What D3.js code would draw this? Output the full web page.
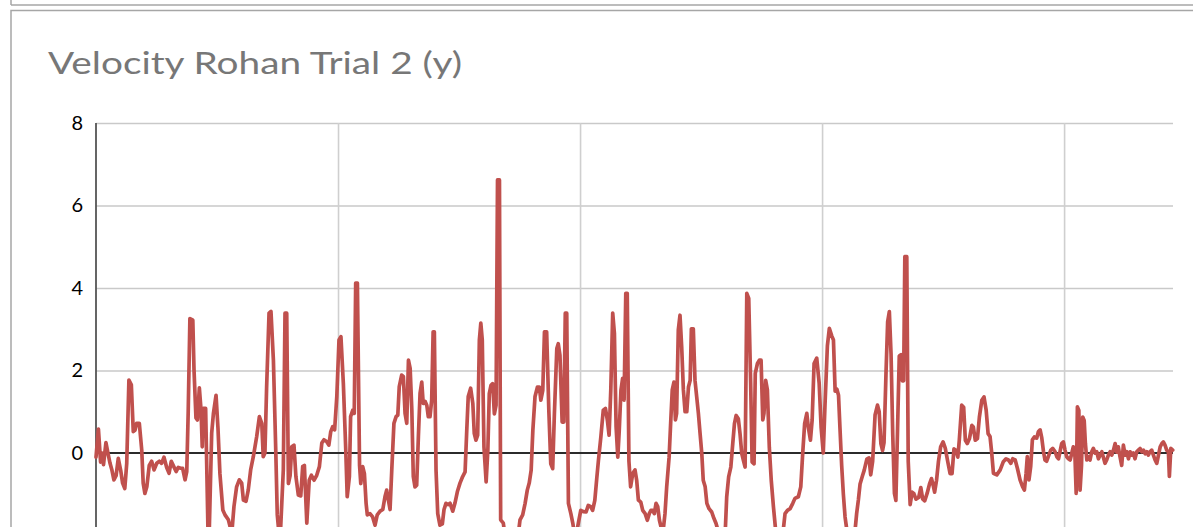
<!DOCTYPE html>
<html><head><meta charset="utf-8">
<script src="https://cdn.jsdelivr.net/npm/d3@7"></script>
<style>html,body{margin:0;padding:0;background:#fff;overflow:hidden}</style>
</head><body><svg id="c" width="1193" height="527"></svg>
<script>
const chartTitle = "Velocity Rohan Trial 2 (y)";
const yTicks = [-4, -2, 0, 2, 4, 6, 8];
const yLabelTicks = [0, 2, 4, 6, 8];
const yDomain = [-4, 8];
const frameDomain = [0, 445];
const xGridFrames = [100, 200, 300, 400];

const frames = [
0.0,1.0,1.9,2.5,3.1,4.1,5.0,5.8,6.6,7.4,
8.3,9.2,10.2,11.0,11.9,12.7,13.6,14.6,15.4,16.1,
16.8,17.9,18.9,19.5,20.2,21.0,22.0,23.0,24.0,25.1,
26.2,27.1,28.1,29.2,30.2,31.1,31.9,33.1,34.0,35.0,
35.8,36.8,37.5,38.1,38.8,40.0,40.5,41.3,41.9,42.7,
43.4,43.9,44.3,45.3,46.5,47.8,48.5,49.6,50.4,51.2,
52.4,53.3,54.7,56.1,57.0,58.1,59.2,60.2,60.9,62.0,
62.9,63.9,65.0,66.4,67.5,68.5,69.1,69.8,70.5,71.5,
72.3,73.3,74.3,74.9,76.0,77.4,78.1,78.8,79.5,80.2,
80.9,81.8,82.6,83.6,84.6,85.4,86.1,87.1,88.1,89.0,
90.1,91.2,92.3,93.3,94.2,95.3,96.2,97.0,97.8,98.6,
99.5,100.4,101.2,102.2,103.2,103.8,104.7,105.2,106.1,106.7,
107.3,108.0,108.9,109.4,110.2,110.9,111.6,112.1,113.2,114.3,
115.3,116.2,117.4,118.5,119.4,120.1,120.8,121.5,122.2,123.1,
124.0,124.7,125.3,126.3,127.0,127.7,128.4,129.1,129.8,130.5,
131.1,131.8,132.5,133.2,133.9,134.6,135.2,136.0,136.7,137.3,
138.0,138.7,139.3,139.8,140.5,141.2,142.1,143.1,143.8,144.6,
145.6,146.3,147.4,148.3,149.3,150.4,151.5,152.5,153.2,153.8,
154.8,155.7,156.3,157.0,157.7,158.4,159.0,159.6,160.3,161.2,
161.9,162.5,163.2,163.9,164.6,165.3,165.9,166.7,167.2,168.3,
169.4,171.9,174.0,175.2,176.3,177.3,178.2,179.0,179.8,180.5,
181.4,182.4,183.2,183.8,184.6,185.3,186.2,187.1,187.9,188.7,
189.4,190.4,191.0,191.7,192.6,193.3,193.9,194.5,195.2,196.2,
197.0,198.1,199.3,200.3,201.4,202.5,203.4,204.4,205.2,206.1,
206.9,207.6,208.6,209.6,210.5,211.3,212.0,212.7,213.5,214.2,
214.9,215.6,216.2,216.9,217.6,218.2,218.9,219.5,220.2,220.9,
221.8,222.7,223.4,224.1,225.1,225.9,226.9,227.8,228.6,229.3,
230.0,230.7,231.4,232.1,232.8,233.5,234.4,235.1,235.8,236.8,
237.5,238.1,238.8,239.4,239.9,240.6,241.3,242.0,242.7,243.4,
244.1,244.8,245.5,246.0,246.8,247.5,248.2,248.9,249.6,250.3,
250.9,251.7,252.4,253.3,254.4,255.1,256.2,257.1,258.7,260.0,
260.6,261.4,262.3,263.1,263.8,264.5,265.4,266.1,266.8,267.5,
268.2,268.9,269.7,270.5,271.1,271.9,272.4,273.3,274.1,274.8,
275.5,276.0,276.7,277.4,278.2,279.0,279.9,280.7,282.2,284.0,
284.7,285.7,286.8,287.9,288.8,290.2,291.2,292.0,292.8,293.7,
294.3,295.2,295.9,296.7,297.8,298.8,299.6,300.5,301.2,302.2,
303.0,304.0,304.7,305.4,306.1,306.8,307.4,308.1,308.8,309.5,
310.2,311.6,313.6,314.3,315.0,315.7,316.7,317.4,318.5,319.4,
320.1,320.9,321.9,322.9,323.6,324.3,325.0,325.6,326.4,327.1,
327.8,328.5,329.2,329.9,330.5,331.2,331.9,332.6,333.2,333.7,
334.2,335.0,335.6,336.4,337.2,337.9,338.8,339.9,340.8,341.6,
342.4,343.4,344.4,345.2,345.9,346.5,347.3,348.1,349.0,350.0,
350.9,351.9,352.9,353.7,354.5,355.4,356.1,356.7,357.7,358.5,
359.2,360.0,360.9,361.9,362.5,363.3,364.2,365.0,366.0,366.9,
367.8,368.6,369.4,370.1,370.8,372.2,373.6,374.9,376.0,377.0,
378.0,378.8,379.8,380.7,381.8,382.8,383.6,384.3,384.8,385.5,
386.2,386.9,387.7,388.7,389.4,390.1,390.8,391.5,392.1,392.8,
393.7,394.5,395.3,396.3,397.0,397.7,398.3,399.0,399.7,400.4,
401.1,401.8,402.5,403.2,403.8,404.5,405.0,405.5,406.1,406.6,
407.2,407.7,408.3,408.8,409.4,410.0,410.7,411.4,412.1,412.8,
413.5,414.2,414.9,415.6,416.2,416.9,417.6,418.3,419.0,419.7,
420.4,421.1,421.8,422.4,423.1,423.8,424.5,425.2,425.9,426.6,
427.3,428.0,428.6,429.3,430.0,430.7,431.4,432.1,432.8,433.5,
434.2,434.8,435.5,436.2,436.9,437.6,438.3,439.0,439.7,440.4,
441.0,441.7,442.4,443.1,443.5,444.1,444.9
];

const velocity = [
-0.10,0.58,-0.22,0.00,-0.28,0.25,-0.02,-0.25,-0.42,-0.65,
-0.55,-0.13,-0.42,-0.73,-0.86,-0.25,1.77,1.65,0.52,0.55,
0.72,0.72,0.07,-0.73,-0.98,-0.82,-0.30,-0.20,-0.41,-0.25,
-0.20,-0.25,-0.10,-0.35,-0.49,-0.20,-0.30,-0.45,-0.35,-0.37,
-0.37,-0.65,-0.45,1.00,3.26,3.22,2.01,0.85,0.80,1.58,
1.04,0.15,1.08,1.08,-2.60,0.48,0.95,1.40,0.60,-0.50,
-1.38,-1.50,-1.62,-1.95,-1.30,-0.82,-0.65,-0.73,-1.14,-1.17,
-0.90,-0.41,-0.09,0.40,0.88,0.72,-0.09,0.00,1.60,3.39,
3.43,2.25,0.00,-1.50,-2.20,-0.40,3.39,3.39,-0.74,-0.55,
0.15,0.19,-0.57,-1.02,-1.04,-0.33,-0.30,-1.70,-0.66,-0.54,
-0.66,-0.54,-0.33,0.24,0.32,0.28,0.19,0.52,0.64,0.56,
1.37,2.74,2.82,1.69,0.07,-1.06,-0.57,0.88,1.04,0.96,
4.12,4.12,-0.30,-0.74,-0.33,-0.50,-1.22,-1.50,-1.47,-1.55,
-1.75,-1.50,-1.41,-1.37,-1.06,-0.90,-1.14,-1.37,-0.42,0.72,
0.88,0.92,1.61,1.89,1.85,0.96,0.72,2.25,2.05,1.04,
-0.57,-0.82,-0.78,0.39,1.45,1.72,1.20,1.25,1.15,0.88,
0.88,1.28,2.94,2.94,-0.42,-1.47,-1.75,-1.72,-1.37,-1.22,
-1.25,-1.22,-1.41,-1.22,-0.94,-0.73,-0.57,-0.46,0.56,1.37,
1.57,1.20,0.47,0.31,0.43,2.74,3.15,2.74,0.15,-0.70,
0.06,1.44,1.64,1.68,0.95,1.16,6.62,6.62,-1.62,-1.70,
-2.20,-2.60,-2.20,-1.62,-1.50,-1.22,-0.90,-0.73,-0.42,0.55,
1.37,1.60,1.60,1.28,1.52,2.94,2.94,1.04,-0.26,-0.38,
0.95,2.53,2.65,2.37,0.75,0.75,3.39,3.39,-1.22,-1.47,
-1.70,-2.10,-1.70,-1.39,-1.42,-1.43,-1.27,-1.30,-1.39,-1.15,
-0.62,-0.18,0.39,1.04,1.08,0.79,0.43,1.52,3.39,2.90,
0.63,-0.10,0.55,1.52,1.81,1.28,3.87,3.87,-0.20,-0.82,
-0.49,-0.41,-0.66,-1.14,-1.19,-1.39,-1.47,-1.63,-1.47,-1.39,
-1.39,-1.47,-1.22,-1.30,-1.63,-1.80,-1.85,-1.47,-0.82,-0.10,
0.80,1.53,1.72,0.80,0.96,2.98,3.34,2.57,1.53,1.00,
1.00,1.60,1.76,3.01,3.01,1.76,1.36,0.96,0.47,-0.01,
-0.66,-0.82,-1.22,-1.35,-1.43,-1.55,-1.71,-1.90,-2.10,-1.90,
-1.06,-0.58,-0.34,0.23,0.71,0.91,0.83,0.47,-0.01,-0.18,
-0.34,3.87,3.75,1.68,-0.22,-0.26,1.93,2.17,2.25,2.25,
0.80,0.96,1.76,1.53,0.14,-0.66,-1.30,-1.80,-2.20,-1.85,
-1.47,-1.39,-1.35,-1.22,-1.10,-1.06,-0.82,-0.01,0.71,0.96,
0.63,0.31,0.80,2.17,2.30,1.69,0.63,0.00,1.15,2.60,
3.02,2.84,2.74,1.50,1.55,1.40,0.60,-0.30,-1.00,-1.55,
-1.85,-2.30,-1.90,-1.46,-1.14,-0.75,-0.55,-0.42,-0.15,-0.12,
-0.53,-0.20,0.92,1.16,1.00,0.23,0.06,0.25,1.90,3.18,
3.43,2.40,0.45,-0.98,-1.15,0.60,2.35,2.38,1.75,1.75,
4.76,4.76,-0.20,-1.25,-0.95,-0.98,-1.12,-1.08,-0.84,-1.12,
-1.16,-0.98,-0.75,-0.62,-0.78,-0.95,-0.66,-0.20,0.15,0.27,
0.12,-0.20,-0.50,-0.50,0.10,0.06,-0.10,0.31,1.16,1.11,
0.31,0.23,0.35,0.67,0.63,0.31,0.35,0.87,1.28,1.36,
1.04,0.47,0.40,0.00,-0.49,-0.53,-0.41,-0.21,-0.14,-0.17,
-0.25,-0.14,-0.17,-0.37,-0.65,-0.81,-0.90,-0.49,-0.09,-0.65,
-0.33,0.32,0.39,0.36,0.52,0.56,0.36,0.03,-0.17,-0.20,
-0.05,0.07,0.11,0.03,-0.09,-0.14,0.03,0.23,0.27,0.07,
-0.09,-0.14,-0.17,0.00,0.15,-0.09,-0.98,1.12,1.03,-0.90,
-0.30,0.87,0.79,0.23,-0.17,-0.09,-0.17,0.03,0.11,0.00,
0.03,-0.14,-0.05,0.03,-0.10,-0.25,-0.17,-0.05,0.03,-0.05,
0.07,0.23,0.02,0.15,-0.09,-0.30,0.19,-0.05,0.03,-0.14,
0.03,-0.05,0.00,-0.14,0.03,0.07,0.11,0.03,0.07,-0.02,
0.03,-0.05,0.03,0.07,-0.05,-0.17,-0.25,-0.05,0.15,0.23,
0.27,0.19,0.07,0.03,-0.57,0.11,0.07
];

const svg = d3.select("#c");
const W = 1193;
const plot = {left: 96, right: 1173, top: 123, bottom: 618};

// outer frames
svg.append("line").attr("x1", 11).attr("x2", W + 5).attr("y1", 5).attr("y2", 5)
  .attr("stroke", "#a6a6a6").attr("stroke-width", 1.5);
svg.append("line").attr("x1", 11).attr("x2", 11).attr("y1", -5).attr("y2", 5)
  .attr("stroke", "#a6a6a6").attr("stroke-width", 1.5);
svg.append("rect").attr("x", 11).attr("y", 10.5).attr("width", W + 20).attr("height", 800)
  .attr("fill", "none").attr("stroke", "#a6a6a6").attr("stroke-width", 1.5);

const x = d3.scaleLinear().domain(frameDomain).range([plot.left, plot.right]);
const y = d3.scaleLinear().domain(yDomain).range([plot.bottom, plot.top]);

// horizontal gridlines
svg.append("g").attr("class", "ygrid")
  .attr("transform", `translate(${plot.left},0)`)
  .call(d3.axisLeft(y).tickValues(yTicks.filter(v => v !== 0))
    .tickSize(-(plot.right - plot.left)).tickFormat(""))
  .call(g => g.select(".domain").remove())
  .call(g => g.selectAll("line").attr("stroke", "#c9c9c9").attr("stroke-width", 1.6));

// vertical gridlines
svg.append("g").attr("class", "xgrid")
  .attr("transform", `translate(0,${plot.bottom})`)
  .call(d3.axisBottom(x).tickValues(xGridFrames)
    .tickSize(-(plot.bottom - plot.top)).tickFormat(""))
  .call(g => g.select(".domain").remove())
  .call(g => g.selectAll("line").attr("stroke", "#cfcfcf").attr("stroke-width", 1.6));

// y axis labels
svg.append("g").attr("class", "yaxis")
  .attr("transform", `translate(${plot.left},0)`)
  .call(d3.axisLeft(y).tickValues(yLabelTicks).tickSize(0).tickPadding(13).tickFormat(d3.format("d")))
  .call(g => g.select(".domain").remove())
  .call(g => g.selectAll("text").attr("fill", "#000")
    .style("font-family", "Lato, 'Open Sans', sans-serif").style("font-size", "20px"));

// vertical axis line
svg.append("line").attr("x1", plot.left).attr("x2", plot.left)
  .attr("y1", plot.top).attr("y2", plot.bottom)
  .attr("stroke", "#555").attr("stroke-width", 1.8);

// horizontal axis at zero
svg.append("line").attr("x1", plot.left).attr("x2", plot.right)
  .attr("y1", y(0)).attr("y2", y(0))
  .attr("stroke", "#2b2b2b").attr("stroke-width", 2);

// series
const data = d3.zip(frames, velocity);
svg.append("path").datum(data)
  .attr("fill", "none").attr("stroke", "#C0504D").attr("stroke-width", 3.7)
  .attr("stroke-linejoin", "round").attr("stroke-linecap", "round")
  .attr("d", d3.line().x(d => x(d[0])).y(d => y(d[1])));

// title
svg.append("text").attr("x", 48).attr("y", 74)
  .attr("fill", "#777777")
  .style("font-family", "Lato, 'Open Sans', sans-serif").style("font-size", "31px")
  .attr("textLength", 414).attr("lengthAdjust", "spacingAndGlyphs")
  .text(chartTitle);
</script>
</body></html>
